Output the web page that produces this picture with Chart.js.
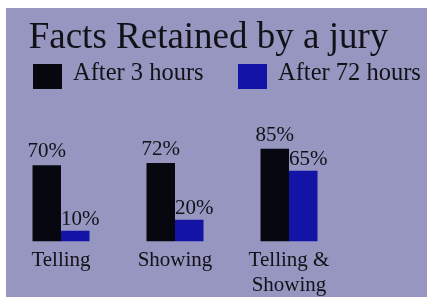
<!DOCTYPE html>
<html><head><meta charset="utf-8">
<script src="https://cdn.jsdelivr.net/npm/chart.js@4"></script>
<style>
html,body{margin:0;padding:0;background:#fff;}
#bg{position:absolute;left:6px;top:8px;width:421px;height:289px;background:#9696c0;}
#wrap{position:absolute;left:0;top:0;width:427px;height:297px;}
</style></head><body>
<div id="bg"></div>
<div id="wrap"><canvas id="c" width="427" height="297"></canvas></div>
<script>
const categories = [["Telling"], ["Showing"], ["Telling &", "Showing"]];
const seriesNames = ["After 3 hours", "After 72 hours"];
const after3 = [70, 72, 85];
const after72 = [10, 20, 65];
const colors = ["#07070f", "#1313a6"];
const textColor = "#111118";
const serif = "'Liberation Serif', 'Times New Roman', serif";

// value labels above bars
const valueLabels = {
  id: 'valueLabels',
  afterDatasetsDraw(chart) {
    const ctx = chart.ctx;
    ctx.save();
    ctx.font = "21px " + serif;
    ctx.fillStyle = textColor;
    ctx.textAlign = 'center';
    ctx.textBaseline = 'alphabetic';
    const dx = [0, 5];
    const gap = [8, 6];
    chart.data.datasets.forEach((ds, i) => {
      chart.getDatasetMeta(i).data.forEach((bar, j) => {
        ctx.fillText(ds.data[j] + '%', bar.x + dx[i], bar.y - gap[i]);
      });
    });
    ctx.restore();
  }
};

// legend row drawn under the title, from the chart's datasets
const legendRow = {
  id: 'legendRow',
  afterDraw(chart) {
    const ctx = chart.ctx;
    const baseY = chart.titleBlock.top + 76;
    const xs = [33, 238];
    ctx.save();
    ctx.font = "24.5px " + serif;
    ctx.textBaseline = 'alphabetic';
    ctx.textAlign = 'left';
    chart.data.datasets.forEach((ds, i) => {
      ctx.fillStyle = ds.backgroundColor;
      ctx.fillRect(xs[i], baseY - 16, 29, 25);
      ctx.fillStyle = textColor;
      ctx.fillText(ds.label, xs[i] + 40, baseY);
    });
    ctx.restore();
  }
};

new Chart(document.getElementById('c'), {
  type: 'bar',
  data: {
    labels: categories,
    datasets: [
      { label: seriesNames[0], data: after3, backgroundColor: colors[0] },
      { label: seriesNames[1], data: after72, backgroundColor: colors[1] }
    ]
  },
  options: {
    responsive: false,
    animation: false,
    devicePixelRatio: 1,
    layout: { padding: { left: 4, right: 14, top: 4, bottom: -7 } },
    datasets: { bar: { categoryPercentage: 0.5, barPercentage: 1.0 } },
    plugins: {
      title: {
        display: true,
        text: 'Facts Retained by a jury',
        color: textColor,
        font: { family: serif, size: 37, weight: 'normal', lineHeight: 1.2 },
        padding: { top: 12, bottom: 36 },
        fullSize: true
      },
      legend: { display: false },
      tooltip: { enabled: false }
    },
    scales: {
      x: {
        grid: { display: false, drawTicks: false },
        border: { display: false },
        ticks: { color: textColor, font: { family: serif, size: 21, lineHeight: 1.2 }, padding: 6, maxRotation: 0 }
      },
      y: {
        position: 'right',
        min: 0,
        max: 133,
        grid: { display: false, drawTicks: false },
        border: { display: false },
        ticks: { display: false },
        afterFit(scale) { scale.width = 67; }
      }
    }
  },
  plugins: [valueLabels, legendRow]
});
</script>
</body></html>
